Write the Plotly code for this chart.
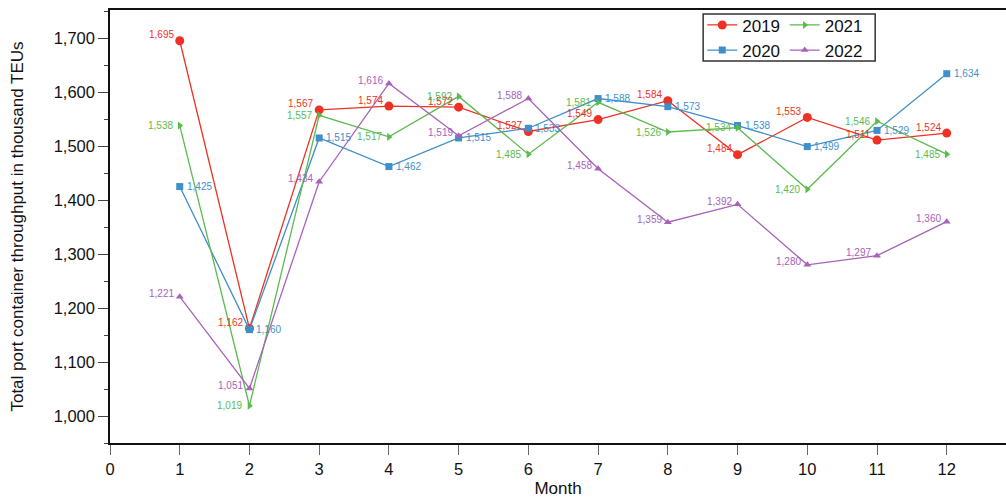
import plotly.graph_objects as go

months = list(range(1, 13))
y2019 = [1695, 1162, 1567, 1574, 1572, 1527, 1549, 1584, 1484, 1553, 1511, 1524]
y2020 = [1425, 1160, 1515, 1462, 1515, 1533, 1588, 1573, 1538, 1499, 1529, 1634]
y2021 = [1538, 1019, 1557, 1517, 1592, 1485, 1581, 1526, 1534, 1420, 1546, 1485]
y2022 = [1221, 1051, 1434, 1616, 1519, 1588, 1458, 1359, 1392, 1280, 1297, 1360]

series = [
    ("2019", y2019, "#ee3124", "circle", 9, "legend", "right", -4, 6),
    ("2020", y2020, "#3f8fca", "square", 7, "legend", "left", 5, 0),
    ("2021", y2021, "#5bbb4f", "triangle-right", 7, "legend2", "right", -5, 0),
    ("2022", y2022, "#a862b9", "triangle-up", 7, "legend2", "right", -4, 3),
]

FONT = "Liberation Sans, Arial, Helvetica, sans-serif"
fig = go.Figure()
annotations = []
for name, ys, col, sym, ms, lg, anchor, xs, yshift in series:
    fig.add_trace(go.Scatter(
        x=months, y=ys, name=name, mode="lines+markers",
        line=dict(color=col, width=1.3),
        marker=dict(symbol=sym, size=ms, color=col),
        legend=lg,
    ))
    for m, v in zip(months, ys):
        annotations.append(dict(
            x=m, y=v, xref="x", yref="y", text=f"{v:,}", showarrow=False,
            xanchor=anchor, yanchor="middle", xshift=xs, yshift=yshift,
            font=dict(size=10, color=col, family=FONT),
        ))

leg_common = dict(yanchor="top", xanchor="left", bgcolor="rgba(0,0,0,0)", borderwidth=0,
                  font=dict(size=17, family=FONT, color="#111111"), tracegroupgap=0, itemwidth=30)

fig.update_layout(
    width=1006, height=500,
    margin=dict(l=110, r=0, t=10, b=57),
    paper_bgcolor="white", plot_bgcolor="white",
    font=dict(family=FONT, color="#111111"),
    annotations=annotations,
    showlegend=True,
    legend=dict(x=0.661, y=1.006, **leg_common),
    legend2=dict(x=0.753, y=1.006, **leg_common),
    shapes=[dict(type="rect", xref="paper", yref="paper",
                 x0=0.662, x1=0.854, y0=0.882, y1=0.991,
                 line=dict(color="#333333", width=1.5), fillcolor="white",
                 layer="above")],
)

fig.update_xaxes(
    range=[0, 12.85], tickmode="linear", tick0=0, dtick=1,
    showline=True, linecolor="#111111", linewidth=1.5, mirror=True,
    ticks="outside", ticklen=10, tickcolor="#666666",
    showgrid=False, zeroline=False,
    tickfont=dict(size=16.5, family=FONT),
    title=dict(text="Month", font=dict(size=17, family=FONT), standoff=6),
)
fig.update_yaxes(
    range=[950, 1752], tickmode="linear", tick0=1000, dtick=100, tickformat=",",
    showline=True, linecolor="#111111", linewidth=1.5,
    ticks="outside", ticklen=10, tickcolor="#444444",
    minor=dict(dtick=50, tick0=950, ticks="outside", ticklen=4, tickcolor="#444444", showgrid=False),
    showgrid=False, zeroline=False,
    tickfont=dict(size=16.5, family=FONT),
    title=dict(text="Total port container throughput in thousand TEUs",
               font=dict(size=17, family=FONT), standoff=26),
)

fig.write_html("out.html")
